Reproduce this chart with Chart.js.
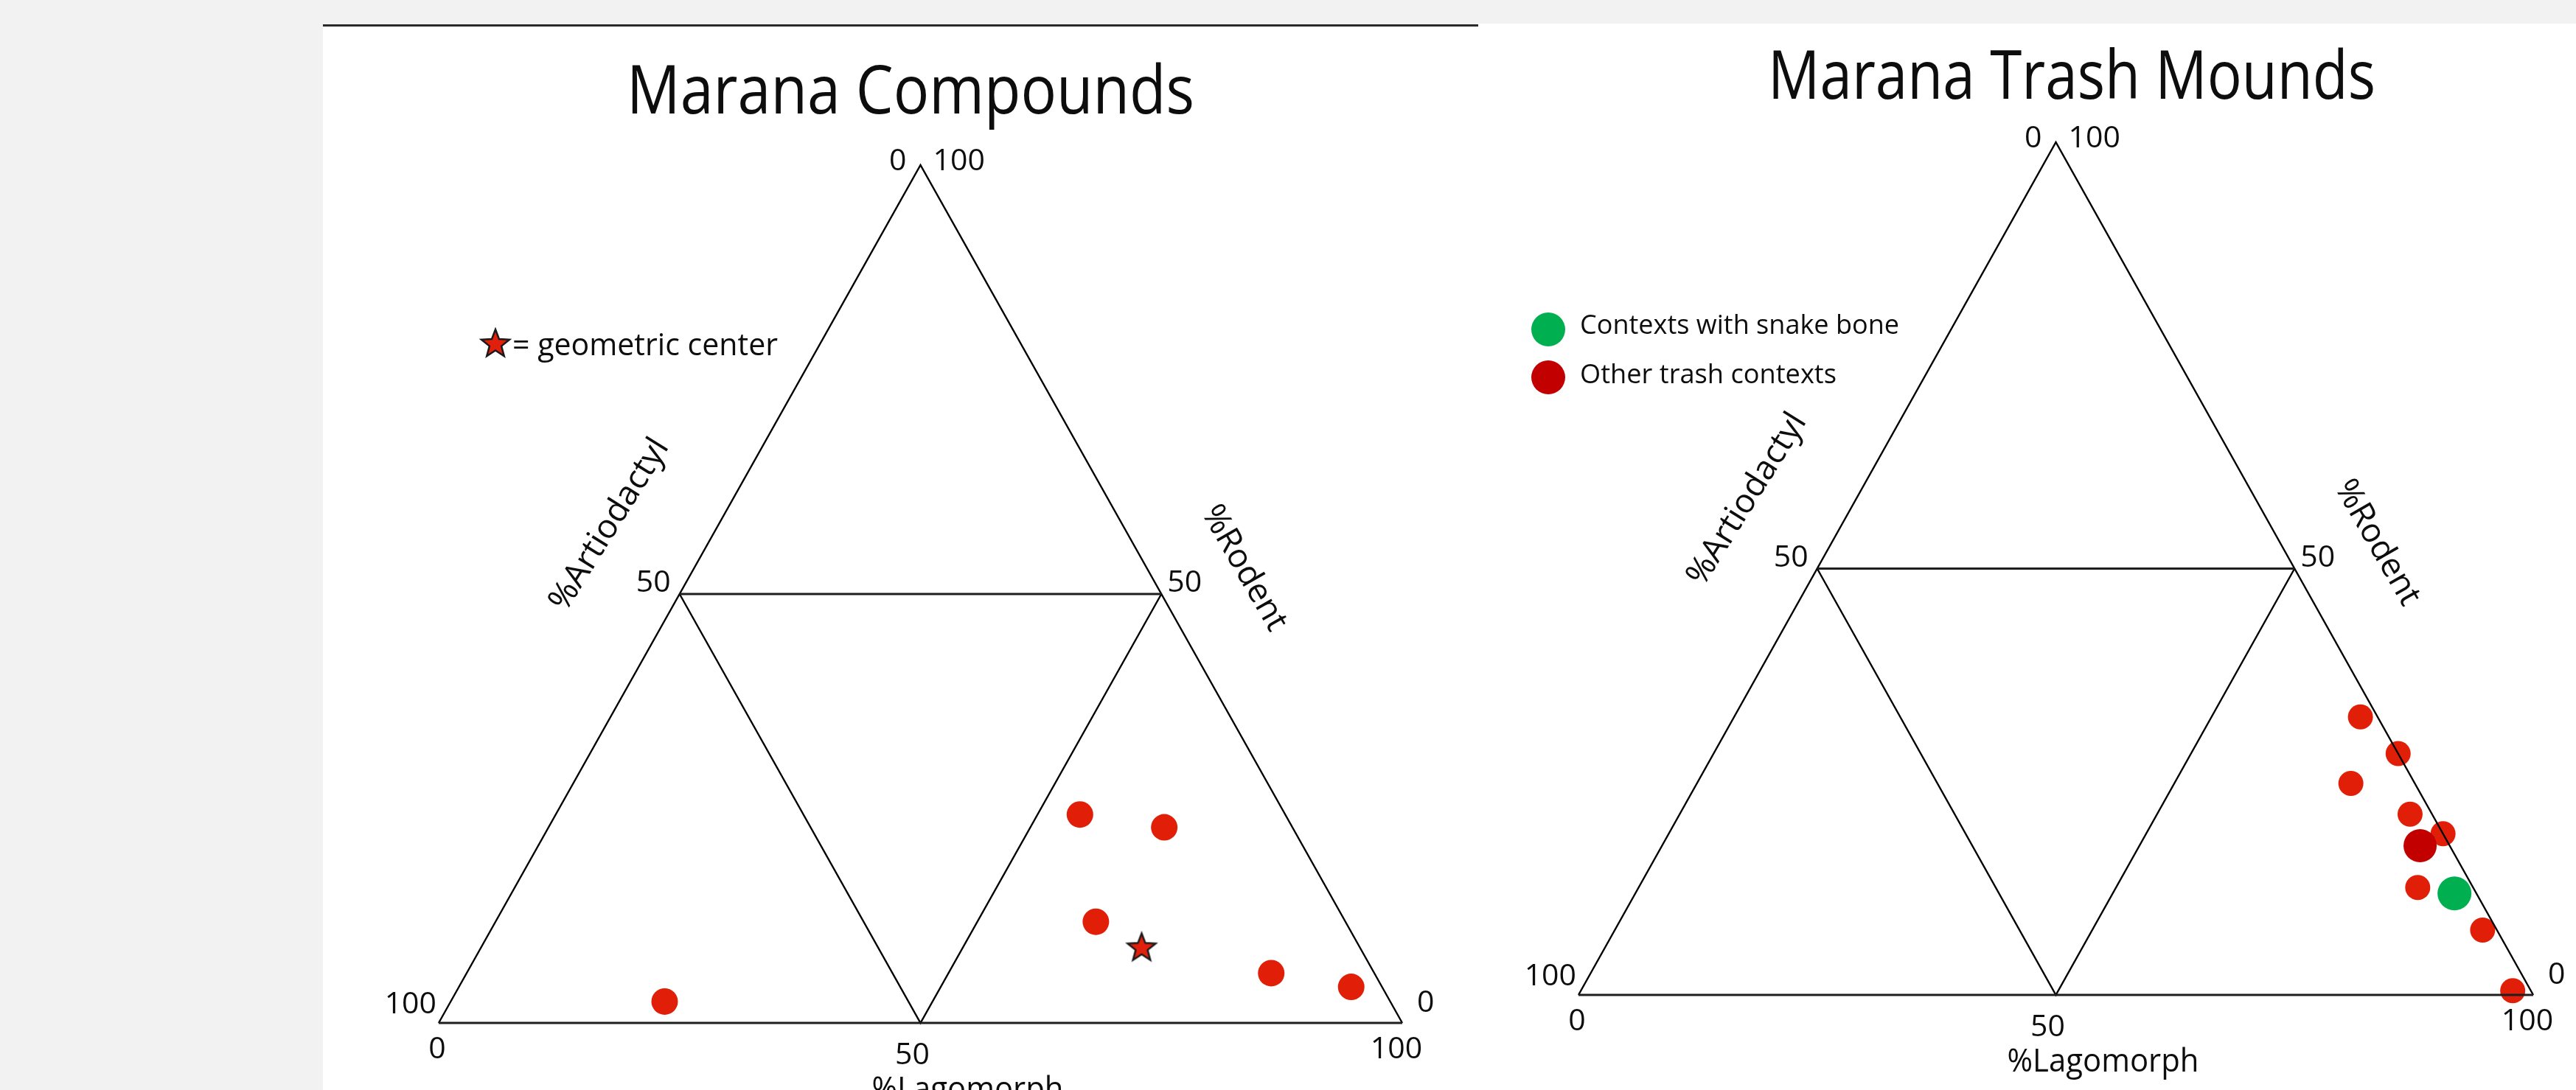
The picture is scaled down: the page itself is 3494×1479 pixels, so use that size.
<!DOCTYPE html>
<html>
<head>
<meta charset="utf-8">
<script src="https://cdn.jsdelivr.net/npm/chart.js@4.4.1/dist/chart.umd.min.js"></script>
<style>
  html, body { margin: 0; padding: 0; background: #f2f2f2; width: 3494px; height: 1479px; overflow: hidden; }
  #leftPanel { position: absolute; left: 438px; top: 33px; width: 1567px; height: 1443px; background: #fff; border-top: 3px solid #2a2a2a; }
  #rightPanel { position: absolute; left: 2005px; top: 32px; width: 1489px; height: 1447px; background: #fff; }
  canvas { display: block; }
</style>
</head>
<body>
<div id="leftPanel"><canvas id="compounds" width="1567" height="1443"></canvas></div>
<div id="rightPanel"><canvas id="mounds" width="1489" height="1447"></canvas></div>
<script>
// ---- Shared axis labelling -------------------------------------------
const tickValues = [0, 50, 100];
const axisTitles = { artiodactyl: '%Artiodactyl', lagomorph: '%Lagomorph', rodent: '%Rodent' };

// ---- Marana Compounds: percent of each taxon per context ---------------
const compoundArtiodactyl = [75.3, 21.3, 13.3, 25.9, 10.7, 3.2];
const compoundLagomorph   = [22.2, 54.4, 63.9, 62.3, 83.5, 92.6];
const compoundRodent      = [ 2.5, 24.3, 22.8, 11.8,  5.8, 4.2];
// geometric center of the compound contexts
const centerArtiodactyl = [22.6];
const centerLagomorph   = [68.5];
const centerRodent      = [ 8.9];

// ---- Marana Trash Mounds ---------------------------------------------
const trashArtiodactyl = [ 1.8,  0.0,  6.7,  2.3,  0.0,  5.8,  1.5,  1.9];
const trashLagomorph   = [65.6, 71.7, 68.5, 76.5, 81.1, 81.6, 90.9, 97.6];
const trashRodent      = [32.6, 28.3, 24.8, 21.2, 18.9, 12.6,  7.6,  0.5];
const trashDarkArtiodactyl = [3.1];
const trashDarkLagomorph   = [79.4];
const trashDarkRodent      = [17.5];
const snakeArtiodactyl = [2.3];
const snakeLagomorph   = [85.8];
const snakeRodent      = [11.9];

const FONT = '"Open Sans", "DejaVu Sans", sans-serif';
const INK = '#0d0d0d';

// Ternary composition -> cartesian value space (bottom-left = Artiodactyl,
// bottom-right = Lagomorph, apex = Rodent)
function toXY(art, lag, rod) {
  return art.map((_, i) => ({ x: lag[i] + rod[i] / 2, y: rod[i] }));
}

function drawLabel(ctx, str, x, y, o) {
  ctx.save();
  ctx.font = `${o.weight || 500} ${o.size}px ${FONT}`;
  ctx.fillStyle = INK;
  ctx.textAlign = o.align || 'center';
  ctx.textBaseline = o.baseline || 'alphabetic';
  ctx.translate(x, y);
  if (o.rotate) ctx.rotate(o.rotate * Math.PI / 180);
  if (o.width) {
    const w = ctx.measureText(str).width;
    ctx.scale(o.width / w, 1);
  }
  ctx.fillText(str, 0, 0);
  ctx.restore();
}

// Filled five-point star used for the geometric center marker
function makeStar(outer, inner, fill, stroke) {
  const c = document.createElement('canvas');
  const s = Math.ceil(outer * 2 + 6);
  c.width = s; c.height = s;
  const g = c.getContext('2d');
  g.translate(s / 2, s / 2 + outer * 0.1);
  g.beginPath();
  for (let i = 0; i < 10; i++) {
    const r = i % 2 === 0 ? outer : inner;
    const a = -Math.PI / 2 + i * Math.PI / 5;
    const px = r * Math.cos(a), py = r * Math.sin(a);
    i === 0 ? g.moveTo(px, py) : g.lineTo(px, py);
  }
  g.closePath();
  g.fillStyle = fill;
  g.fill();
  g.lineJoin = 'miter';
  g.lineWidth = 2.5;
  g.strokeStyle = stroke;
  g.stroke();
  return c;
}

// Triangle frame, 50% grid, tick labels, axis titles, title and legend
const ternaryPlugin = {
  id: 'ternaryFrame',
  afterDatasetsDraw(chart, args, opts) {
    const { ctx } = chart;
    const xs = chart.scales.x, ys = chart.scales.y;
    const P = (a, l, r) => ({ x: xs.getPixelForValue(l + r / 2), y: ys.getPixelForValue(r) });
    const bl = P(100, 0, 0), br = P(0, 100, 0), ap = P(0, 0, 100);
    const ml = P(50, 0, 50), mr = P(0, 50, 50), mb = P(50, 50, 0);

    ctx.save();
    ctx.lineJoin = 'miter';
    ctx.strokeStyle = '#000';
    ctx.lineWidth = 2.4;
    ctx.beginPath();
    ctx.moveTo(bl.x, bl.y); ctx.lineTo(ap.x, ap.y); ctx.lineTo(br.x, br.y);
    ctx.stroke();
    ctx.beginPath();
    ctx.moveTo(ml.x, ml.y); ctx.lineTo(mb.x, mb.y); ctx.lineTo(mr.x, mr.y);
    ctx.stroke();
    ctx.strokeStyle = '#1e1e1e';
    ctx.lineWidth = 3.2;
    ctx.beginPath();
    ctx.moveTo(bl.x, bl.y); ctx.lineTo(br.x, br.y);
    ctx.stroke();
    ctx.lineWidth = 2.8;
    ctx.beginPath();
    ctx.moveTo(ml.x, ml.y); ctx.lineTo(mr.x, mr.y);
    ctx.stroke();
    ctx.restore();

    const tickSize = 41;
    // left edge: Artiodactyl
    const leftDx = [-19, -12, -3], leftDy = [7, -3, -13];
    // bottom edge: Lagomorph
    const botDx = [-2, -11, -8], botDy = [48, 56, 48];
    // right edge: Rodent
    const rightDx = [20, 8, 17], rightDy = [-15, -3, 7];
    tickValues.forEach((v, i) => {
      const pl = P(v, 0, 100 - v);
      drawLabel(ctx, String(v), pl.x + leftDx[i], pl.y + leftDy[i], { size: tickSize, align: 'right' });
      const pb = P(100 - v, v, 0);
      drawLabel(ctx, String(v), pb.x + botDx[i], pb.y + botDy[i], { size: tickSize, align: 'center' });
      const pr = P(0, 100 - v, v);
      drawLabel(ctx, String(v), pr.x + rightDx[i], pr.y + rightDy[i], { size: tickSize, align: 'left' });
    });

    drawLabel(ctx, axisTitles.artiodactyl, ml.x - 95, ml.y - 94, { size: 45, rotate: -58, baseline: 'middle', width: 266 });
    drawLabel(ctx, axisTitles.rodent, mr.x + 112, mr.y - 35, { size: 45, rotate: 60, baseline: 'middle' });
    drawLabel(ctx, axisTitles.lagomorph, mb.x + 64, mb.y + 104, { size: 43, width: 260 });

    const t = opts.title;
    drawLabel(ctx, t.text, t.x, t.y, { size: 92, width: t.width });

    if (opts.starLegend) {
      const s = opts.starLegend;
      ctx.drawImage(starImg, s.x - starImg.width / 2, s.y - starImg.height / 2);
      drawLabel(ctx, s.text, s.tx, s.ty, { size: 42, align: 'left', width: s.width });
    }
    if (opts.dotLegend) {
      opts.dotLegend.forEach(d => {
        ctx.save();
        ctx.fillStyle = d.color;
        ctx.beginPath();
        ctx.arc(d.x, d.y, d.r, 0, Math.PI * 2);
        ctx.fill();
        ctx.restore();
        drawLabel(ctx, d.text, d.tx, d.ty, { size: 36, align: 'left', width: d.width });
      });
    }
  }
};

const RED = '#e11f08';
const DARK_RED = '#c20000';
const GREEN = '#00b050';
let starImg;

function ternaryOptions(padding, frame) {
  return {
    responsive: false,
    animation: false,
    devicePixelRatio: 1,
    layout: { padding },
    events: [],
    scales: {
      x: { type: 'linear', min: 0, max: 100, display: false },
      y: { type: 'linear', min: 0, max: 100, display: false }
    },
    plugins: {
      legend: { display: false },
      tooltip: { enabled: false },
      ternaryFrame: frame
    }
  };
}

function build() {
  starImg = makeStar(20, 8.5, '#e0200c', '#1a1a1a');

  new Chart(document.getElementById('compounds'), {
    type: 'scatter',
    plugins: [ternaryPlugin],
    data: {
      datasets: [
        {
          label: 'Geometric center',
          data: toXY(centerArtiodactyl, centerLagomorph, centerRodent),
          pointStyle: starImg,
          pointRadius: 20,
          order: 1,
          clip: false
        },
        {
          label: 'Compound contexts',
          data: toXY(compoundArtiodactyl, compoundLagomorph, compoundRodent),
          pointStyle: 'circle',
          pointRadius: 18,
          pointBorderWidth: 0,
          backgroundColor: RED,
          borderColor: RED,
          order: 2,
          clip: false
        }
      ]
    },
    options: ternaryOptions(
      { left: 157, top: 188, right: 103, bottom: 91 },
      {
        title: { text: 'Marana Compounds', x: 797, y: 118, width: 770 },
        starLegend: { x: 234, y: 429, text: '= geometric center', tx: 257, ty: 446, width: 360 }
      }
    )
  });

  new Chart(document.getElementById('mounds'), {
    type: 'scatter',
    plugins: [ternaryPlugin],
    data: {
      datasets: [
        {
          label: 'Contexts with snake bone',
          data: toXY(snakeArtiodactyl, snakeLagomorph, snakeRodent),
          pointStyle: 'circle',
          pointRadius: 23,
          pointBorderWidth: 0,
          backgroundColor: GREEN,
          borderColor: GREEN,
          order: 1,
          clip: false
        },
        {
          label: 'Other trash contexts',
          data: toXY(trashDarkArtiodactyl, trashDarkLagomorph, trashDarkRodent),
          pointStyle: 'circle',
          pointRadius: 22.5,
          pointBorderWidth: 0,
          backgroundColor: DARK_RED,
          borderColor: DARK_RED,
          order: 2,
          clip: false
        },
        {
          label: 'Other trash contexts',
          data: toXY(trashArtiodactyl, trashLagomorph, trashRodent),
          pointStyle: 'circle',
          pointRadius: 17,
          pointBorderWidth: 0,
          backgroundColor: RED,
          borderColor: RED,
          order: 3,
          clip: false
        }
      ]
    },
    options: ternaryOptions(
      { left: 136, top: 161, right: 58, bottom: 129 },
      {
        title: { text: 'Marana Trash Mounds', x: 805, y: 102, width: 824 },
        dotLegend: [
          { color: GREEN, x: 95, y: 415, r: 23, text: 'Contexts with snake bone', tx: 138, ty: 421, width: 433 },
          { color: DARK_RED, x: 95, y: 480, r: 23, text: 'Other trash contexts', tx: 138, ty: 488, width: 348 }
        ]
      }
    )
  });
}

const fontReady = document.fonts && document.fonts.load
  ? Promise.all([document.fonts.load('500 40px "Open Sans"'), document.fonts.load('500 92px "Open Sans"')]).catch(() => {})
  : Promise.resolve();
fontReady.then(build, build);
</script>
</body>
</html>
